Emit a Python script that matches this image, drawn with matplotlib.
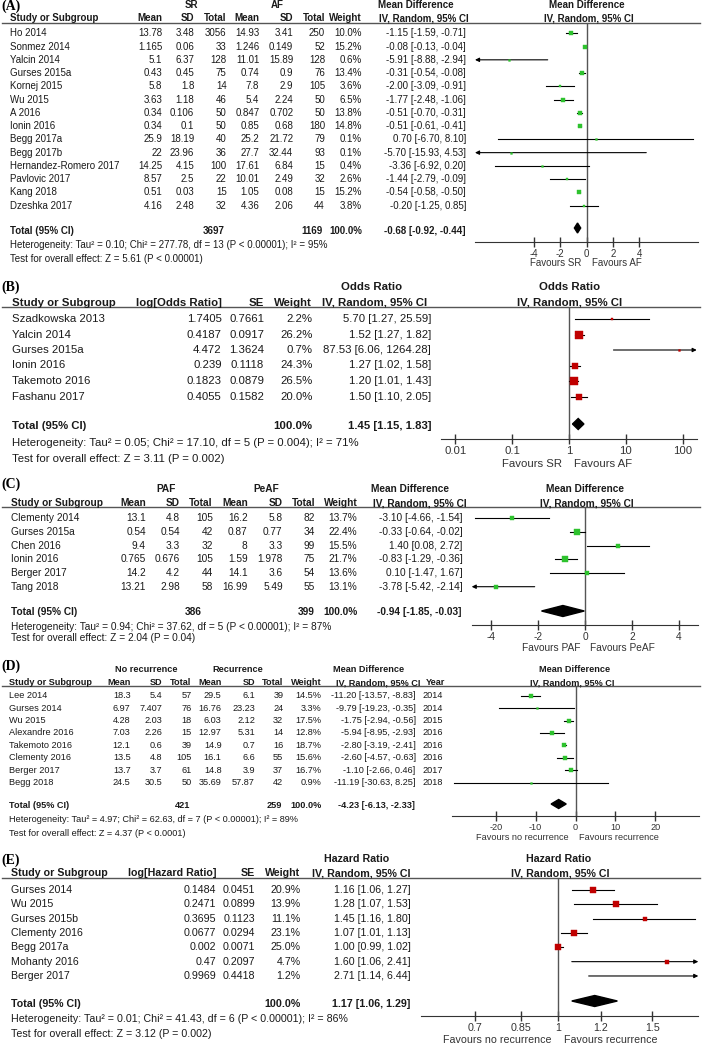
import matplotlib
matplotlib.use("Agg")
import matplotlib.pyplot as plt
from matplotlib.patches import Polygon
import numpy as np

plt.rcParams['font.family'] = ['Liberation Sans', 'DejaVu Sans']

# ---------------- data ----------------
# (A) SR vs AF
studies_a = ["Ho 2014", "Sonmez 2014", "Yalcin 2014", "Gurses 2015a", "Kornej 2015", "Wu 2015",
             "A 2016", "Ionin 2016", "Begg 2017a", "Begg 2017b", "Hernandez-Romero 2017",
             "Pavlovic 2017", "Kang 2018", "Dzeshka 2017"]
sr_mean = ["13.78", "1.165", "5.1", "0.43", "5.8", "3.63", "0.34", "0.34", "25.9", "22", "14.25", "8.57", "0.51", "4.16"]
sr_sd = ["3.48", "0.06", "6.37", "0.45", "1.8", "1.18", "0.106", "0.1", "18.19", "23.96", "4.15", "2.5", "0.03", "2.48"]
sr_n = [3056, 33, 128, 75, 14, 46, 50, 50, 40, 36, 100, 22, 15, 32]
af_mean = ["14.93", "1.246", "11.01", "0.74", "7.8", "5.4", "0.847", "0.85", "25.2", "27.7", "17.61", "10.01", "1.05", "4.36"]
af_sd = ["3.41", "0.149", "15.89", "0.9", "2.9", "2.24", "0.702", "0.68", "21.72", "32.44", "6.84", "2.49", "0.08", "2.06"]
af_n = [250, 52, 128, 76, 105, 50, 50, 180, 79, 93, 15, 32, 15, 44]
weight_a = [10.0, 15.2, 0.6, 13.4, 3.6, 6.5, 13.8, 14.8, 0.1, 0.1, 0.4, 2.6, 15.2, 3.8]
md_a = [-1.15, -0.08, -5.91, -0.31, -2.00, -1.77, -0.51, -0.51, 0.70, -5.70, -3.36, -1.44, -0.54, -0.20]
lo_a = [-1.59, -0.13, -8.88, -0.54, -3.09, -2.48, -0.70, -0.61, -6.70, -15.93, -6.92, -2.79, -0.58, -1.25]
hi_a = [-0.71, -0.04, -2.94, -0.08, -0.91, -1.06, -0.31, -0.41, 8.10, 4.53, 0.20, -0.09, -0.50, 0.85]
total_a = (-0.68, -0.92, -0.44)

# (B) odds ratio
studies_b = ["Szadkowska 2013", "Yalcin 2014", "Gurses 2015a", "Ionin 2016", "Takemoto 2016", "Fashanu 2017"]
log_or = ["1.7405", "0.4187", "4.472", "0.239", "0.1823", "0.4055"]
se_b = ["0.7661", "0.0917", "1.3624", "0.1118", "0.0879", "0.1582"]
weight_b = [2.2, 26.2, 0.7, 24.3, 26.5, 20.0]
or_b = [5.70, 1.52, 87.53, 1.27, 1.20, 1.50]
lo_b = [1.27, 1.27, 6.06, 1.02, 1.01, 1.10]
hi_b = [25.59, 1.82, 1264.28, 1.58, 1.43, 2.05]
total_b = (1.45, 1.15, 1.83)

# (C) PAF vs PeAF
studies_c = ["Clementy 2014", "Gurses 2015a", "Chen 2016", "Ionin 2016", "Berger 2017", "Tang 2018"]
paf_mean = ["13.1", "0.54", "9.4", "0.765", "14.2", "13.21"]
paf_sd = ["4.8", "0.54", "3.3", "0.676", "4.2", "2.98"]
paf_n = [105, 42, 32, 105, 44, 58]
peaf_mean = ["16.2", "0.87", "8", "1.59", "14.1", "16.99"]
peaf_sd = ["5.8", "0.77", "3.3", "1.978", "3.6", "5.49"]
peaf_n = [82, 34, 99, 75, 54, 55]
weight_c = [13.7, 22.4, 15.5, 21.7, 13.6, 13.1]
md_c = [-3.10, -0.33, 1.40, -0.83, 0.10, -3.78]
lo_c = [-4.66, -0.64, 0.08, -1.29, -1.47, -5.42]
hi_c = [-1.54, -0.02, 2.72, -0.36, 1.67, -2.14]
total_c = (-0.94, -1.85, -0.03)

# (D) no recurrence vs recurrence
studies_d = ["Lee 2014", "Gurses 2014", "Wu 2015", "Alexandre 2016", "Takemoto 2016",
             "Clementy 2016", "Berger 2017", "Begg 2018"]
norec_mean = ["18.3", "6.97", "4.28", "7.03", "12.1", "13.5", "13.7", "24.5"]
norec_sd = ["5.4", "7.407", "2.03", "2.26", "0.6", "4.8", "3.7", "30.5"]
norec_n = [57, 76, 18, 15, 39, 105, 61, 50]
rec_mean = ["29.5", "16.76", "6.03", "12.97", "14.9", "16.1", "14.8", "35.69"]
rec_sd = ["6.1", "23.23", "2.12", "5.31", "0.7", "6.6", "3.9", "57.87"]
rec_n = [39, 24, 32, 14, 16, 55, 37, 42]
weight_d = [14.5, 3.3, 17.5, 12.8, 18.7, 15.6, 16.7, 0.9]
md_d = [-11.20, -9.79, -1.75, -5.94, -2.80, -2.60, -1.10, -11.19]
lo_d = [-13.57, -19.23, -2.94, -8.95, -3.19, -4.57, -2.66, -30.63]
hi_d = [-8.83, -0.35, -0.56, -2.93, -2.41, -0.63, 0.46, 8.25]
years_d = [2014, 2014, 2015, 2016, 2016, 2016, 2017, 2018]
total_d = (-4.23, -6.13, -2.33)

# (E) hazard ratio
studies_e = ["Gurses 2014", "Wu 2015", "Gurses 2015b", "Clementy 2016", "Begg 2017a", "Mohanty 2016", "Berger 2017"]
log_hr = ["0.1484", "0.2471", "0.3695", "0.0677", "0.002", "0.47", "0.9969"]
se_e = ["0.0451", "0.0899", "0.1123", "0.0294", "0.0071", "0.2097", "0.4418"]
weight_e = [20.9, 13.9, 11.1, 23.1, 25.0, 4.7, 1.2]
hr_e = [1.16, 1.28, 1.45, 1.07, 1.00, 1.60, 2.71]
lo_e = [1.06, 1.07, 1.16, 1.01, 0.99, 1.06, 1.14]
hi_e = [1.27, 1.53, 1.80, 1.13, 1.02, 2.41, 6.44]
total_e = (1.17, 1.06, 1.29)

# ---------------- figure ----------------
W, H = 709, 1044
fig = plt.figure(figsize=(W / 100, H / 100), dpi=100)
bg = fig.add_axes([0, 0, 1, 1])
bg.set_xlim(0, W)
bg.set_ylim(H, 0)
bg.axis('off')

TXT = '#1a1a1a'
GREEN = '#2ec22e'
RED = '#c00000'


def txt(x, y, s, size, ha='left', bold=False, color=TXT):
    bg.text(x, y, s, fontsize=size, ha=ha, va='center', color=color,
            fontweight='bold' if bold else 'normal')


def letter(y, s):
    bg.text(1, y, s, fontsize=10, ha='left', va='center', color='k',
            family='Liberation Serif', fontweight='bold')


def ci(e, l, h):
    return f"{e:.2f} [{l:.2f}, {h:.2f}]"


def forest(box, xlim, rows_y, est, lo, hi, wts, total, total_y, color, k, ticks, ticklabels,
           fs, log=False, dh=5, ref=0):
    x0, x1, ytop, ybot = box
    ax = fig.add_axes([x0 / W, 1 - ybot / H, (x1 - x0) / W, (ybot - ytop) / H])
    ax.patch.set_alpha(0)
    if log:
        ax.set_xscale('log')
    ax.set_xlim(*xlim)
    ax.set_ylim(ybot, ytop)
    for s in ['top', 'left', 'right']:
        ax.spines[s].set_visible(False)
    ax.spines['bottom'].set_color('#333333')
    ax.set_yticks([])
    ax.set_xticks(ticks)
    ax.set_xticklabels(ticklabels)
    ax.minorticks_off()
    ax.tick_params(axis='x', direction='inout', length=7, width=1, labelsize=fs, pad=1.5,
                   color='#333333', labelcolor='#333333')
    ax.axvline(ref, color='#555555', lw=1)
    for y, e, l, h, w in zip(rows_y, est, lo, hi, wts):
        if l < xlim[0]:
            ax.annotate('', xy=(xlim[0], y), xytext=(h, y), annotation_clip=False,
                        arrowprops=dict(arrowstyle='-|>', color='k', lw=0.8, mutation_scale=6,
                                        shrinkA=0, shrinkB=0))
        elif h > xlim[1]:
            ax.annotate('', xy=(xlim[1], y), xytext=(l, y), annotation_clip=False,
                        arrowprops=dict(arrowstyle='-|>', color='k', lw=0.8, mutation_scale=6,
                                        shrinkA=0, shrinkB=0))
        else:
            ax.plot([l, h], [y, y], color='k', lw=0.8)
        if xlim[0] < e < xlim[1]:
            ax.plot(e, y, marker='s', ms=max(1.3, k * np.sqrt(w)), color=color, mec=color,
                    mew=0.3, zorder=3)
    e, l, h = total
    ax.add_patch(Polygon([(l, total_y), (e, total_y - dh), (h, total_y), (e, total_y + dh)],
                         closed=True, color='k', zorder=3))
    return ax


# ---------------- panel A ----------------
fs = 7.0
letter(6, "(A)")
txt(191, 5, "SR", fs, 'center', True)
txt(277, 5, "AF", fs, 'center', True)
txt(416, 5, "Mean Difference", fs, 'center', True)
txt(587, 5, "Mean Difference", fs, 'center', True)
hy = 18.3
txt(10, hy, "Study or Subgroup", fs, bold=True)
cols_a = [162.3, 194.3, 226.7, 259.3, 293.3, 325, 362]
for x, s in zip(cols_a, ["Mean", "SD", "Total", "Mean", "SD", "Total", "Weight"]):
    txt(x, hy, s, fs, 'right', True)
txt(424, hy, "IV, Random, 95% CI", fs, 'center', True)
txt(589, hy, "IV, Random, 95% CI", fs, 'center', True)
bg.plot([2, 700], [22.7, 22.7], color='#555555', lw=1)
rows_a = [33.3 + i * 13.26 for i in range(len(studies_a))]
for i, y in enumerate(rows_a):
    txt(10, y, studies_a[i], fs)
    vals = [sr_mean[i], sr_sd[i], str(sr_n[i]), af_mean[i], af_sd[i], str(af_n[i]), f"{weight_a[i]:.1f}%"]
    for x, s in zip(cols_a, vals):
        txt(x, y, s, fs, 'right')
    txt(466, y, ci(md_a[i], lo_a[i], hi_a[i]), fs, 'right')
ty = 231
txt(10, ty, "Total (95% CI)", fs, bold=True)
txt(225, ty, str(sum(sr_n)), fs, 'right', True)
txt(322.7, ty, str(sum(af_n)), fs, 'right', True)
txt(362, ty, "100.0%", fs, 'right', True)
txt(465, ty, ci(*total_a), fs, 'right', True)
txt(10, 245, "Heterogeneity: Tau² = 0.10; Chi² = 277.78, df = 13 (P < 0.00001); I² = 95%", fs)
txt(10, 259, "Test for overall effect: Z = 5.61 (P < 0.00001)", fs)
forest((475, 698, 22.7, 241.7), (-8.45, 8.45), rows_a, md_a, lo_a, hi_a, weight_a, total_a, 228,
       GREEN, 0.92, [-4, -2, 0, 2, 4], ["-4", "-2", "0", "2", "4"], fs, dh=5)
txt(581, 263.3, "Favours SR", fs, 'right', color='#333333')
txt(591.7, 263.3, "Favours AF", fs, 'left', color='#333333')

# ---------------- panel B ----------------
fs = 8.2
letter(287.3, "(B)")
txt(372, 287.3, "Odds Ratio", fs, 'center', True)
txt(569.3, 287.3, "Odds Ratio", fs, 'center', True)
hy = 302.7
txt(11.7, hy, "Study or Subgroup", fs, bold=True)
cols_b = [221.7, 264, 312.3]
for x, s in zip(cols_b, ["log[Odds Ratio]", "SE", "Weight"]):
    txt(x, hy, s, fs, 'right', True)
txt(375, hy, "IV, Random, 95% CI", fs, 'center', True)
txt(570, hy, "IV, Random, 95% CI", fs, 'center', True)
bg.plot([2, 700], [307.3, 307.3], color='#555555', lw=1)
rows_b = [319 + i * 15.5 for i in range(len(studies_b))]
for i, y in enumerate(rows_b):
    txt(11.7, y, studies_b[i], fs)
    for x, s in zip(cols_b, [log_or[i], se_b[i], f"{weight_b[i]:.1f}%"]):
        txt(x, y, s, fs, 'right')
    txt(431, y, ci(or_b[i], lo_b[i], hi_b[i]), fs, 'right')
ty = 425.7
txt(11.7, ty, "Total (95% CI)", fs, bold=True)
txt(312.3, ty, "100.0%", fs, 'right', True)
txt(431, ty, ci(*total_b), fs, 'right', True)
txt(11.7, 442.7, "Heterogeneity: Tau² = 0.05; Chi² = 17.10, df = 5 (P = 0.004); I² = 71%", fs)
txt(11.7, 459, "Test for overall effect: Z = 3.11 (P = 0.002)", fs)
forest((440.7, 696.7, 307.3, 439), (0.0055, 177), rows_b, or_b, lo_b, hi_b, weight_b, total_b, 424,
       RED, 1.0, [0.01, 0.1, 1, 10, 100], ["0.01", "0.1", "1", "10", "100"], fs, log=True, dh=5.5, ref=1)
txt(562.3, 464, "Favours SR", fs, 'right', color='#333333')
txt(574, 464, "Favours AF", fs, 'left', color='#333333')

# ---------------- panel C ----------------
fs = 7.3
letter(484, "(C)")
txt(166, 489.3, "PAF", fs, 'center', True)
txt(266, 489.3, "PeAF", fs, 'center', True)
txt(410, 489.3, "Mean Difference", fs, 'center', True)
txt(585, 489.3, "Mean Difference", fs, 'center', True)
hy = 503.3
txt(11, hy, "Study or Subgroup", fs, bold=True)
cols_c = [146, 180, 212.7, 247.7, 282.7, 315, 357.3]
for x, s in zip(cols_c, ["Mean", "SD", "Total", "Mean", "SD", "Total", "Weight"]):
    txt(x, hy, s, fs, 'right', True)
txt(420, hy, "IV, Random, 95% CI", fs, 'center', True)
txt(587, hy, "IV, Random, 95% CI", fs, 'center', True)
bg.plot([2, 700], [507.3, 507.3], color='#555555', lw=1)
rows_c = [518.3 + i * 13.68 for i in range(len(studies_c))]
for i, y in enumerate(rows_c):
    txt(11, y, studies_c[i], fs)
    vals = [paf_mean[i], paf_sd[i], str(paf_n[i]), peaf_mean[i], peaf_sd[i], str(peaf_n[i]), f"{weight_c[i]:.1f}%"]
    for x, s in zip(cols_c, vals):
        txt(x, y, s, fs, 'right')
    txt(462.7, y, ci(md_c[i], lo_c[i], hi_c[i]), fs, 'right')
ty = 611.7
txt(11, ty, "Total (95% CI)", fs, bold=True)
txt(202, ty, str(sum(paf_n)), fs, 'right', True)
txt(315, ty, str(sum(peaf_n)), fs, 'right', True)
txt(357.3, ty, "100.0%", fs, 'right', True)
txt(461.7, ty, ci(*total_c), fs, 'right', True)
txt(11, 626.7, "Heterogeneity: Tau² = 0.94; Chi² = 37.62, df = 5 (P < 0.00001); I² = 87%", fs)
txt(11, 638.3, "Test for overall effect: Z = 2.04 (P = 0.04)", fs)
forest((471.7, 698.3, 507.3, 625), (-4.82, 4.82), rows_c, md_c, lo_c, hi_c, weight_c, total_c, 611,
       GREEN, 0.9, [-4, -2, 0, 2, 4], ["-4", "-2", "0", "2", "4"], fs, dh=5.5)
txt(580, 648, "Favours PAF", fs, 'right', color='#333333')
txt(590, 648, "Favours PeAF", fs, 'left', color='#333333')

# ---------------- panel D ----------------
fs = 6.6
letter(666, "(D)")
txt(146, 669.3, "No recurrence", fs, 'center', True)
txt(237.5, 669.3, "Recurrence", fs, 'center', True)
txt(368.7, 669.3, "Mean Difference", fs, 'center', True)
txt(575, 669.3, "Mean Difference", fs, 'center', True)
hy = 682.7
txt(9, hy, "Study or Subgroup", fs, bold=True)
cols_d = [130.7, 162.3, 191.7, 221.7, 255, 283.3, 321.7]
for x, s in zip(cols_d, ["Mean", "SD", "Total", "Mean", "SD", "Total", "Weight"]):
    txt(x, hy, s, fs, 'right', True)
txt(378, hy, "IV, Random, 95% CI", fs, 'center', True)
txt(426, hy, "Year", fs, 'left', True)
txt(571.7, hy, "IV, Random, 95% CI", fs, 'center', True)
bg.plot([2, 700], [686, 686], color='#555555', lw=1)
rows_d = [695.7 + i * 12.43 for i in range(len(studies_d))]
for i, y in enumerate(rows_d):
    txt(9, y, studies_d[i], fs)
    vals = [norec_mean[i], norec_sd[i], str(norec_n[i]), rec_mean[i], rec_sd[i], str(rec_n[i]), f"{weight_d[i]:.1f}%"]
    for x, s in zip(cols_d, vals):
        txt(x, y, s, fs, 'right')
    txt(415.7, y, ci(md_d[i], lo_d[i], hi_d[i]), fs, 'right')
    txt(422.7, y, str(years_d[i]), fs)
ty = 806
txt(9, ty, "Total (95% CI)", fs, bold=True)
txt(190, ty, str(sum(norec_n)), fs, 'right', True)
txt(282, ty, str(sum(rec_n)), fs, 'right', True)
txt(321.7, ty, "100.0%", fs, 'right', True)
txt(415, ty, ci(*total_d), fs, 'right', True)
txt(9, 820, "Heterogeneity: Tau² = 4.97; Chi² = 62.63, df = 7 (P < 0.00001); I² = 89%", fs)
txt(9, 833.3, "Test for overall effect: Z = 4.37 (P < 0.0001)", fs)
forest((451.7, 699.3, 686, 815.7), (-31.1, 31.1), rows_d, md_d, lo_d, hi_d, weight_d, total_d, 804,
       GREEN, 0.68, [-20, -10, 0, 10, 20], ["-20", "-10", "0", "10", "20"], fs, dh=4.5)
txt(569, 837.3, "Favours no recurrence", fs, 'right', color='#333333')
txt(579, 837.3, "Favours recurrence", fs, 'left', color='#333333')

# ---------------- panel E ----------------
fs = 7.7
letter(860.7, "(E)")
txt(356.5, 859.3, "Hazard Ratio", fs, 'center', True)
txt(559, 859.3, "Hazard Ratio", fs, 'center', True)
hy = 873.3
txt(11, hy, "Study or Subgroup", fs, bold=True)
cols_e = [216, 255, 300.7]
for x, s in zip(cols_e, ["log[Hazard Ratio]", "SE", "Weight"]):
    txt(x, hy, s, fs, 'right', True)
txt(361, hy, "IV, Random, 95% CI", fs, 'center', True)
txt(560.5, hy, "IV, Random, 95% CI", fs, 'center', True)
bg.plot([2, 700], [878.3, 878.3], color='#555555', lw=1)
rows_e = [890 + i * 14.33 for i in range(len(studies_e))]
for i, y in enumerate(rows_e):
    txt(11, y, studies_e[i], fs)
    for x, s in zip(cols_e, [log_hr[i], se_e[i], f"{weight_e[i]:.1f}%"]):
        txt(x, y, s, fs, 'right')
    txt(410.7, y, ci(hr_e[i], lo_e[i], hi_e[i]), fs, 'right')
ty = 1004
txt(11, ty, "Total (95% CI)", fs, bold=True)
txt(300.7, ty, "100.0%", fs, 'right', True)
txt(410, ty, ci(*total_e), fs, 'right', True)
txt(11, 1019.3, "Heterogeneity: Tau² = 0.01; Chi² = 41.43, df = 6 (P < 0.00001); I² = 86%", fs)
txt(11, 1034, "Test for overall effect: Z = 3.12 (P = 0.002)", fs)
forest((420.7, 698.3, 878.3, 1015.7), (0.553, 1.828), rows_e, hr_e, lo_e, hi_e, weight_e, total_e, 1001,
       RED, 1.0, [0.7, 0.85, 1, 1.2, 1.5], ["0.7", "0.85", "1", "1.2", "1.5"], fs, log=True, dh=5.5, ref=1)
txt(551.7, 1040, "Favours no recurrence", fs, 'right', color='#333333')
txt(564, 1040, "Favours recurrence", fs, 'left', color='#333333')

fig.savefig("out.png", dpi=100)
